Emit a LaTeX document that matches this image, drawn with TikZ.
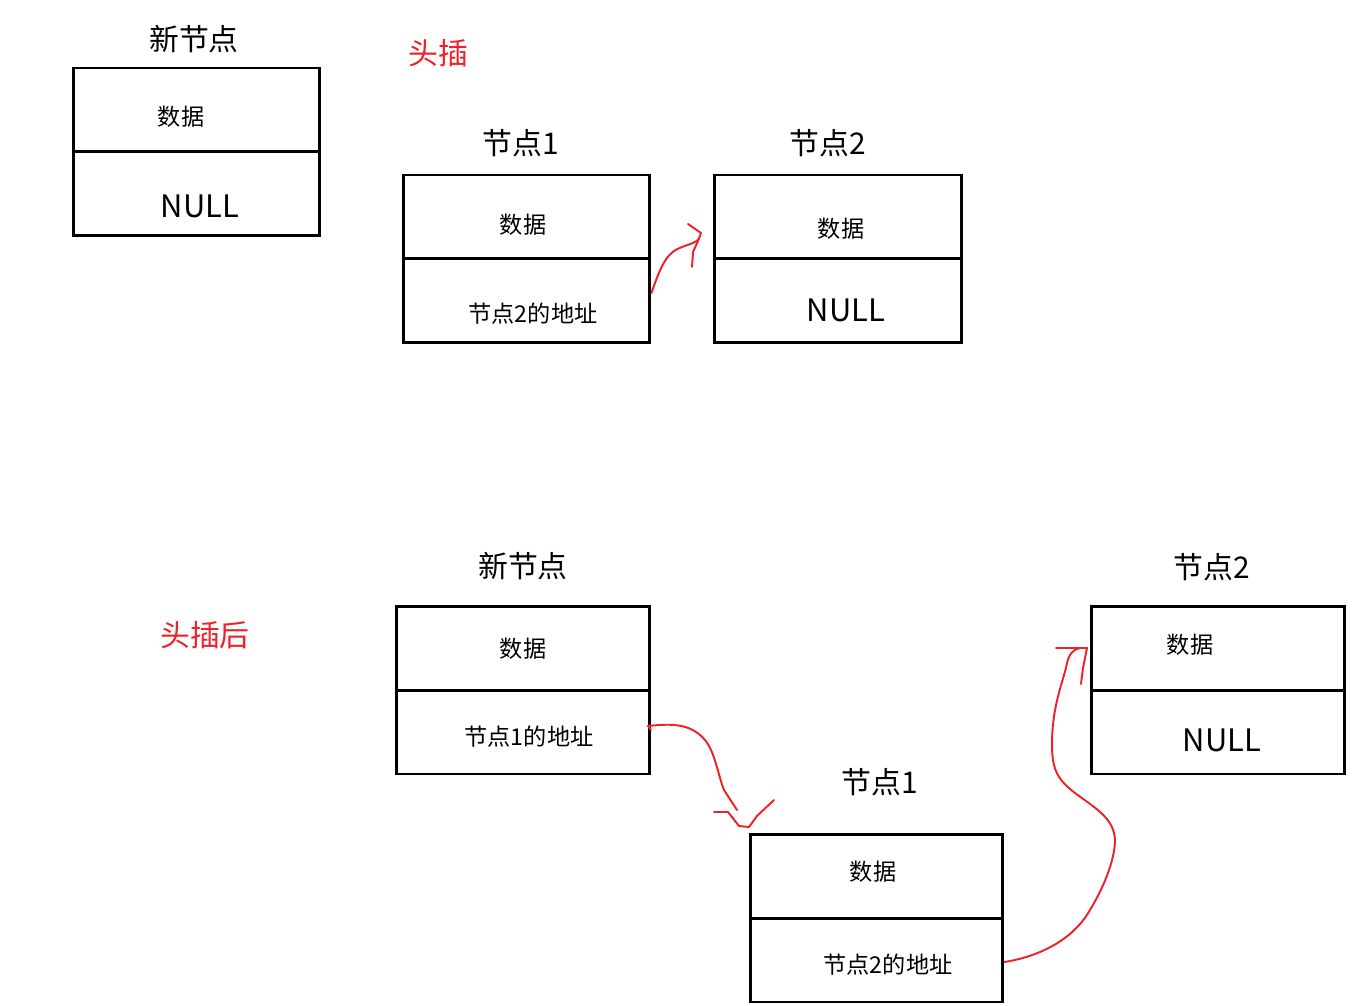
\documentclass[tikz,border=0pt]{standalone}
\usepackage{fontspec}
\setmainfont{Noto Sans CJK SC}
\definecolor{pen}{RGB}{238,32,40}
\begin{document}
\begin{tikzpicture}[x=0.02cm,y=-0.02cm,
  cell/.style={draw,line width=1.7pt,minimum width=4.94cm,minimum height=1.68cm,inner sep=0pt},
  wcell/.style={cell,minimum width=5.06cm},
  small/.style={font=\fontsize{13.2}{15}\selectfont},
  big/.style={font=\fontsize{17.6}{20}\selectfont},
  title/.style={font=\fontsize{17}{20}\selectfont},
  redtitle/.style={title,text=pen},
  pen/.style={draw=pen,line width=1.1pt,line cap=round,line join=round}]
\useasboundingbox (0,0) rectangle (1372,1006);
% top: new node
\node[cell] (a1) at (196.5,110) {};
\node[cell] (a2) at (196.5,194) {};
\node[title] (ta) at (194,39) {新节点};
\node[small] at (181,117) {数据};
\node[big] at (200,206) {NULL};
\node[redtitle] (h1) at (438,53) {头插};
% top: node1
\node[cell] (b1) at (526.5,217) {};
\node[cell] (b2) at (526.5,301) {};
\node[title] (tb) at (521,143) {节点1};
\node[small] at (523,225) {数据};
\node[small] at (533,314) {节点2的地址};
% top: node2
\node[cell] (c1) at (838,217) {};
\node[cell] (c2) at (838,301) {};
\node[title] (tc) at (828,143) {节点2};
\node[small] at (841,229) {数据};
\node[big] at (846,310) {NULL};
% bottom: new node
\node[wcell] (d1) at (523,648) {};
\node[wcell] (d2) at (523,732) {};
\node[title] (td) at (523,566) {新节点};
\node[small] at (523,649) {数据};
\node[small] at (529,737) {节点1的地址};
\node[redtitle] (h2) at (205,635) {头插后};
% bottom: node2
\node[wcell] (e1) at (1218,648) {};
\node[wcell] (e2) at (1218,732) {};
\node[title] (te) at (1212,567) {节点2};
\node[small] at (1190,645) {数据};
\node[big] at (1222,740) {NULL};
% bottom: node1
\node[wcell] (f1) at (876.5,876) {};
\node[wcell] (f2) at (876.5,960) {};
\node[title] (tf) at (880,782) {节点1};
\node[small] at (873,872) {数据};
\node[small] at (888,965) {节点2的地址};
% red hand-drawn arrows
\draw[pen] (b2.east |- 0,293) .. controls (662,262) and (668,252) .. (682,247) .. controls (690,244) and (695,243) .. (699,239);
\draw[pen] (688,224) -- (701,233) -- (698,241) -- (693,252) -- (692,267);
\draw[pen] (d2.east |- 0,730) -- (648,726) .. controls (668,724) and (690,722) .. (705,740)
  .. controls (715,752) and (718,775) .. (724,790) -- (737,810);
\draw[pen] (714,812) -- (728,812) -- (739,826) -- (749,827) -- (757,816) -- (774,800);
\draw[pen] (f2.east |- 0,962) .. controls (1030,958) and (1070,945) .. (1090,910)
  .. controls (1108,880) and (1115,855) .. (1115,840) .. controls (1114,818) and (1095,808) .. (1075,793)
  .. controls (1058,780) and (1052,770) .. (1052,745) .. controls (1052,710) and (1060,690) .. (1066,668)
  .. controls (1068,655) and (1072,650) .. (1080,648);
\draw[pen] (1056,648) -- (1087,648) -- (1083,668) -- (1081,684);
\end{tikzpicture}
\end{document}
